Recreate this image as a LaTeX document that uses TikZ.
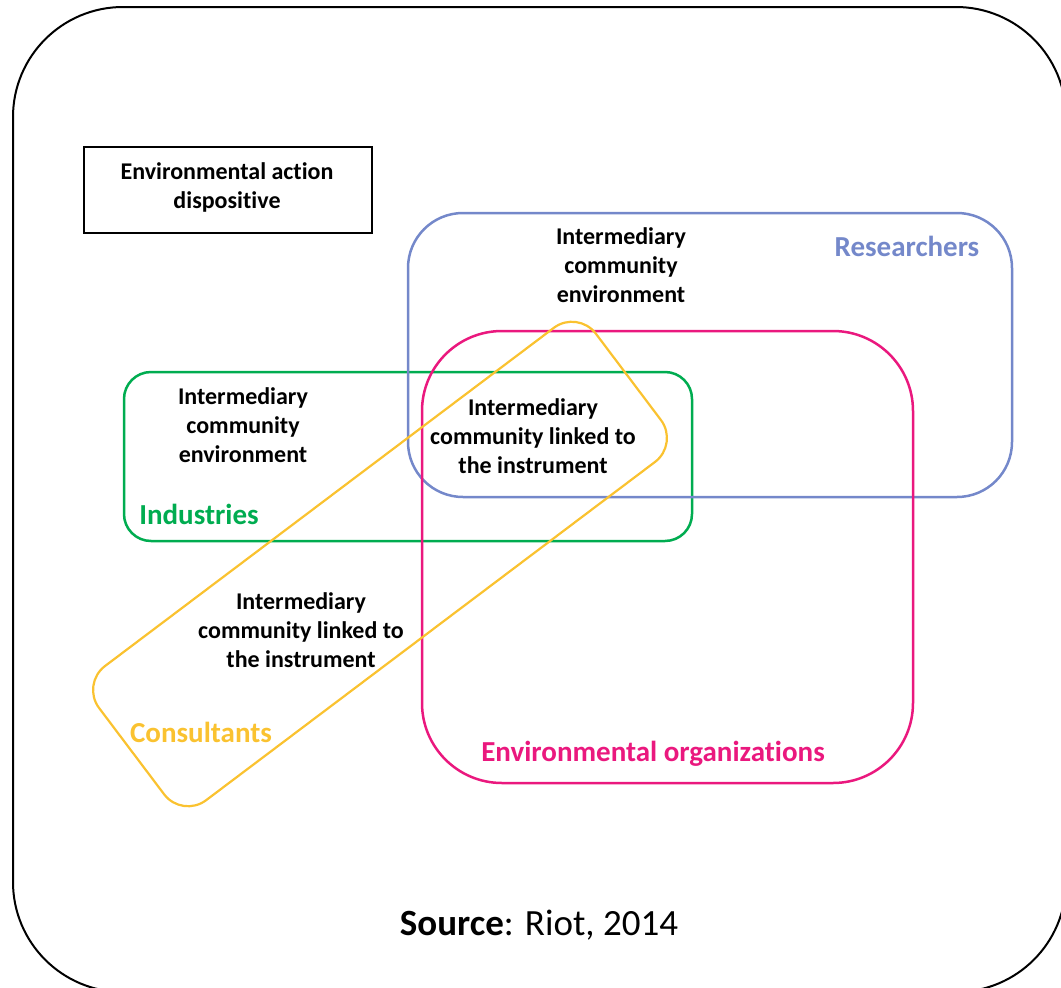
\documentclass[tikz,border=0pt]{standalone}
\usepackage{fontspec}
\setmainfont{Carlito}[Ligatures={NoCommon,NoContextual}]
\usetikzlibrary{positioning}
\definecolor{resblue}{RGB}{116,136,202}
\definecolor{orgpink}{RGB}{234,24,126}
\definecolor{indgreen}{RGB}{0,172,80}
\definecolor{conyellow}{RGB}{250,194,48}

\begin{document}
\begin{tikzpicture}[x=1pt,y=-1pt,
  group/.style={rectangle,line width=2.5pt,inner sep=0pt},
  body/.style={align=center,font=\fontsize{24}{29}\selectfont\bfseries},
  label/.style={font=\fontsize{29}{34}\selectfont\bfseries}]
\useasboundingbox (0,0) rectangle (1061,988);
\clip (0,0) rectangle (1061,988);
\node[rectangle,draw=black,line width=2pt,rounded corners=110pt,inner sep=0pt,minimum width=1053pt,minimum height=985pt](big) at (539.5,499.5){};
\node[rectangle,draw=black,line width=2pt,minimum width=288pt,minimum height=86pt](disp) at (228,190){};
\node[body](disptxt) at (227,187){Environmental action\\dispositive};
% groups
\node[group,draw=indgreen,rounded corners=27pt,minimum width=568pt,minimum height=169pt](ind) at (408,456.5){};
\node[group,draw=resblue,rounded corners=55pt,minimum width=604pt,minimum height=284pt](res) at (710,355){};
\node[group,draw=orgpink,rounded corners=80pt,minimum width=491pt,minimum height=452pt](org) at (667.5,557){};
\node[group,draw=conyellow,line width=2.2pt,rounded corners=30pt,minimum width=622pt,minimum height=168pt,rotate=37](con) at (380,564){};
% texts
\node[body](resenv) at (621,265){Intermediary\\community\\environment};
\node[body](indenv) at (243,425){Intermediary\\community\\environment};
\node[body](midinst) at (533,436){Intermediary\\community linked to\\the instrument};
\node[body](coninst) at (301,630){Intermediary\\community linked to\\the instrument};
\node[label,text=resblue](reslbl) at (907,246){Researchers};
\node[label,text=indgreen](indlbl) at (199,514){Industries};
\node[label,text=conyellow](conlbl) at (201,732){Consultants};
\node[label,text=orgpink](orglbl) at (653,754){Environmental organizations};
\node[font=\fontsize{37}{44}\selectfont](src) at (539,925){\textbf{Source}: Riot, 2014};
\end{tikzpicture}
\end{document}
